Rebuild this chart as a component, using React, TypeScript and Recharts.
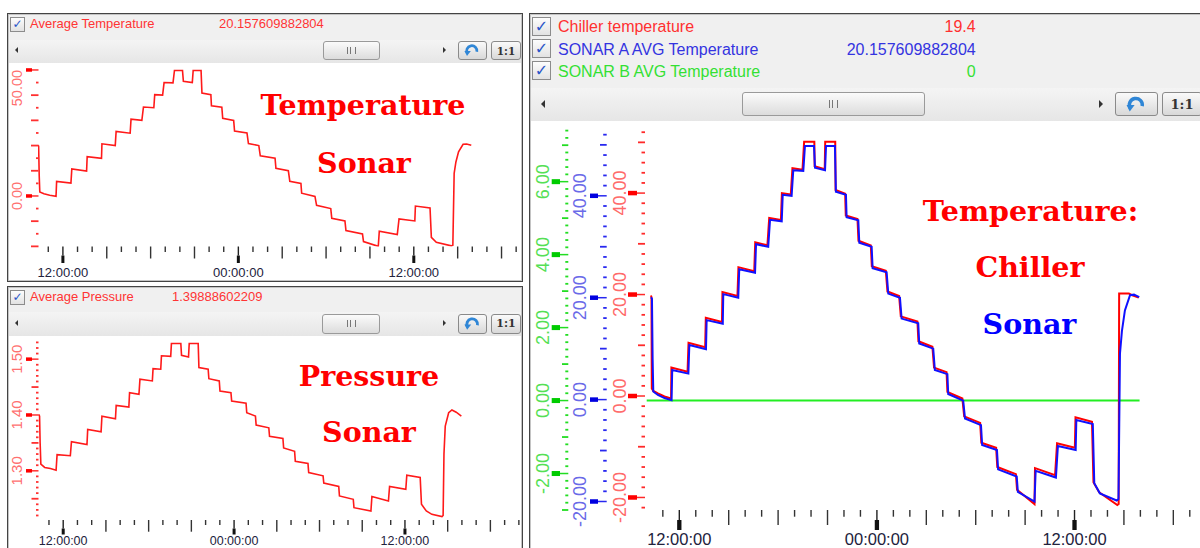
import React from 'react'
import { LineChart, Line, XAxis, YAxis } from 'recharts'

// time is in hours after the first 12:00:00 mark
const sonarA: [number, number][] = [
  [-1.72, 20.1], [-1.66, 19.8], [-1.62, 8.0], [-1.58, 1.6], [-1.3, 0.9], [-0.9, 0.3], [-0.47, -0.1],
  [-0.43, 5.8], [0.55, 5.1],
  [0.61, 10.7], [1.62, 9.9],
  [1.66, 15.6], [2.64, 14.9],
  [2.67, 20.7], [3.58, 20.0],
  [3.64, 25.6], [4.6, 24.9],
  [4.66, 30.5], [5.4, 30.0],
  [5.51, 35.3], [6.22, 35.0],
  [6.28, 40.2], [6.82, 40.0],
  [6.92, 45.0], [7.53, 44.9],
  [7.63, 49.8], [8.18, 49.8],
  [8.24, 45.5], [8.85, 45.0],
  [8.91, 49.8], [9.45, 49.8],
  [9.51, 40.8], [10.12, 40.2],
  [10.16, 35.8], [10.87, 35.2],
  [10.93, 30.8], [11.68, 30.0],
  [11.74, 25.8], [12.59, 25.0],
  [12.69, 20.8], [13.4, 20.0],
  [13.5, 15.9], [14.51, 15.0],
  [14.57, 11.0], [15.42, 10.0],
  [15.52, 5.8], [16.28, 5.0],
  [16.33, 1.1], [17.24, -0.2],
  [17.35, -3.7], [18.32, -5.0],
  [18.39, -8.9], [19.29, -9.9],
  [19.36, -13.7], [20.49, -15.1],
  [20.56, -18.1], [21.57, -20.0],
  [21.64, -14.0], [22.87, -15.3],
  [22.99, -9.1], [24.07, -9.9],
  [24.11, -4.0], [25.11, -4.8],
  [25.2, -16.4], [25.54, -18.4], [26.56, -19.8],
  [26.67, -19.5], [26.76, 9.0], [26.88, 13.5], [27.06, 17.5], [27.37, 20.5], [27.61, 20.6], [27.93, 20.1],
]

const chiller: [number, number][] = [
  [-1.72, 19.8], [-1.69, 19.5], [-1.67, 1.5], [-1.58, 1.0], [-1.3, 0.5], [-0.9, -0.1], [-0.5, -0.5],
  [-0.48, 5.6], [0.5, 4.8],
  [0.56, 10.5], [1.57, 9.6],
  [1.61, 15.4], [2.59, 14.6],
  [2.62, 20.5], [3.53, 19.7],
  [3.59, 25.4], [4.55, 24.6],
  [4.61, 30.3], [5.35, 29.7],
  [5.46, 35.1], [6.17, 34.7],
  [6.23, 40.0], [6.77, 39.7],
  [6.87, 44.9], [7.48, 44.6],
  [7.58, 50.1], [8.2, 50.1],
  [8.22, 45.3], [8.83, 44.7],
  [8.86, 50.1], [9.47, 50.1],
  [9.49, 40.6], [10.07, 39.9],
  [10.11, 35.6], [10.82, 34.9],
  [10.88, 30.6], [11.63, 29.7],
  [11.69, 25.6], [12.54, 24.7],
  [12.64, 20.6], [13.35, 19.7],
  [13.45, 15.7], [14.46, 14.7],
  [14.52, 10.8], [15.37, 9.7],
  [15.47, 5.6], [16.23, 4.7],
  [16.28, 0.8], [17.19, -0.5],
  [17.3, -4.0], [18.27, -5.3],
  [18.34, -9.2], [19.24, -10.2],
  [19.31, -14.0], [20.44, -15.4],
  [20.51, -18.5], [21.57, -21.3],
  [21.6, -14.2], [22.82, -15.6],
  [22.94, -9.3], [24.02, -10.2],
  [24.06, -4.2], [25.06, -5.1],
  [25.15, -17.0], [25.5, -19.0], [26.6, -21.5],
  [26.68, -21.3], [26.71, 20.2], [27.3, 20.2], [27.55, 19.8], [27.9, 19.4],
]

const sonarB: [number, number][] = [[-1.98, 0], [27.95, 0]]

const pressure: [number, number][] = [
  [-1.72, 1.401], [-1.66, 1.398], [-1.62, 1.35], [-1.57, 1.312], [-1.3, 1.306], [-0.9, 1.304], [-0.5, 1.301],
  [-0.43, 1.329], [0.5, 1.327],
  [0.58, 1.352], [1.67, 1.347],
  [1.72, 1.374], [2.66, 1.37],
  [2.72, 1.398], [3.67, 1.393],
  [3.72, 1.417], [4.61, 1.414],
  [4.66, 1.44], [5.32, 1.437],
  [5.39, 1.464], [6.26, 1.461],
  [6.31, 1.483], [6.85, 1.482],
  [6.9, 1.506], [7.55, 1.505],
  [7.6, 1.528], [8.26, 1.528],
  [8.31, 1.507], [8.8, 1.504],
  [8.85, 1.528], [9.48, 1.528],
  [9.53, 1.485], [10.18, 1.482],
  [10.23, 1.465], [10.96, 1.461],
  [11.01, 1.443], [11.78, 1.44],
  [11.83, 1.425], [12.84, 1.421],
  [12.89, 1.404], [13.5, 1.398],
  [13.55, 1.382], [14.44, 1.377],
  [14.49, 1.362], [15.43, 1.358],
  [15.48, 1.341], [16.25, 1.335],
  [16.3, 1.317], [17.19, 1.313],
  [17.24, 1.297], [18.25, 1.291],
  [18.3, 1.278], [19.35, 1.272],
  [19.4, 1.255], [20.37, 1.249],
  [20.42, 1.234], [21.61, 1.228],
  [21.68, 1.254], [22.84, 1.246],
  [22.92, 1.272], [24.06, 1.267],
  [24.13, 1.292], [25.07, 1.288],
  [25.16, 1.24], [25.5, 1.228], [25.89, 1.222], [26.6, 1.218],
  [26.68, 1.22], [26.74, 1.33], [26.83, 1.38], [27.07, 1.404], [27.3, 1.409], [27.6, 1.405], [27.96, 1.398],
]

const timeMajors = [0, 12, 24]
const timeLabels = ['12:00:00', '00:00:00', '12:00:00']
const tempMajors = [0, 50]
const pressureMajors = [1.3, 1.4, 1.5]
const chillerMajors = [-20, 0, 20, 40]
const sonarAMajors = [-20, 0, 20, 40]
const sonarBMajors = [-2, 0, 2, 4, 6]

const rows = (pts: [number, number][]) => pts.map(([t, v]) => ({ t, v }))

const steps = (from: number, to: number, step: number) => {
  const out: number[] = []
  const n = Math.round((to - from) / step)
  for (let i = 0; i <= n; i++) out.push(Math.round((from + i * step) * 1000) / 1000)
  return out
}

const UI_FONT = '"Liberation Sans", Arial, sans-serif'

const textLen = (s: string, f: number) =>
  s.split('').reduce((w, c) => w + (c === '.' ? 0.278 : c === '-' ? 0.333 : 0.556), 0) * f

type YStyle = {
  right: number; barFrom: number; barTo: number; barH: number
  medLen: number; minLen: number; labelX: number; font: number
  tick: string; bar: string; label: string
  majors: number[]; medium: (v: number) => boolean
}

const makeYTick = (s: YStyle) => (props: any) => {
  const { y, payload } = props
  const v = payload.value as number
  const major = s.majors.some((m) => Math.abs(m - v) < 1e-6)
  if (major) {
    const text = v.toFixed(2)
    const half = textLen(text, s.font) / 2
    const cy = y - half < 1 ? y + half : y
    return (
      <g>
        <line x1={s.barTo} x2={s.right} y1={y} y2={y} stroke={s.tick} strokeWidth={1.5} />
        <rect x={s.barFrom} y={y - s.barH / 2} width={s.barTo - s.barFrom} height={s.barH} fill={s.bar} />
        <text
          x={s.labelX}
          y={cy}
          transform={`rotate(-90 ${s.labelX} ${cy})`}
          textAnchor="middle"
          dominantBaseline="central"
          fill={s.label}
          fontSize={s.font}
          fontFamily={UI_FONT}
        >
          {text}
        </text>
      </g>
    )
  }
  const len = s.medium(v) ? s.medLen : s.minLen
  return <line x1={s.right - len} x2={s.right} y1={y} y2={y} stroke={s.tick} strokeWidth={1.8} />
}

type XStyle = { minLen: number; medLen: number; majLen: number; barLen: number; barW: number; labelDy: number; font: number }

const makeXTick = (s: XStyle) => (props: any) => {
  const { x, y, payload } = props
  const v = payload.value as number
  const idx = timeMajors.indexOf(v)
  if (idx >= 0) {
    return (
      <g>
        <line x1={x} x2={x} y1={y} y2={y + s.majLen} stroke="#222" strokeWidth={1.4} />
        <rect x={x - s.barW / 2} y={y + s.majLen} width={s.barW} height={s.barLen} fill="#111" />
        <text x={x} y={y + s.labelDy} textAnchor="middle" fontSize={s.font} fill="#22223c" fontFamily={UI_FONT}>
          {timeLabels[idx]}
        </text>
      </g>
    )
  }
  const len = v % 3 === 0 ? s.medLen : s.minLen
  return <line x1={x} x2={x} y1={y} y2={y + len} stroke="#333" strokeWidth={1.4} />
}

const leftRed = { tick: '#ff3030', bar: '#ff0000', label: '#ff7070' }

const tempTick = makeYTick({
  right: 38.5, barFrom: 26, barTo: 32, barH: 3.5, medLen: 7.5, minLen: 2.5, labelX: 16.7, font: 14.5,
  ...leftRed, majors: tempMajors, medium: (v) => v % 10 === 0,
})
const pressureTick = makeYTick({
  right: 38.5, barFrom: 26, barTo: 32, barH: 3.5, medLen: 7, minLen: 2.5, labelX: 17, font: 15,
  ...leftRed, majors: pressureMajors, medium: (v) => Math.round(v * 100) % 5 === 0,
})
const sonarBTick = makeYTick({
  right: 38.3, barFrom: 21.7, barTo: 30, barH: 5, medLen: 6.3, minLen: 3, labelX: 13.3, font: 18,
  tick: '#22dd22', bar: '#00cc00', label: '#55e055', majors: sonarBMajors,
  medium: (v) => Math.abs(Math.round(v) - v) < 1e-6 && Math.round(v) % 2 !== 0,
})
const sonarATick = makeYTick({
  right: 76.7, barFrom: 60, barTo: 68, barH: 4.5, medLen: 6.7, minLen: 3.5, labelX: 50, font: 18,
  tick: '#2828f0', bar: '#0000e0', label: '#6a6ae8', majors: sonarAMajors, medium: (v) => v % 10 === 0,
})
const chillerTick = makeYTick({
  right: 115, barFrom: 98, barTo: 107, barH: 4.5, medLen: 7, minLen: 3.5, labelX: 90, font: 18,
  tick: '#ff2a2a', bar: '#ff0000', label: '#ff6a6a', majors: chillerMajors, medium: (v) => v % 10 === 0,
})

const topTimeTick = makeXTick({ minLen: 5.5, medLen: 12, majLen: 9, barLen: 7.5, barW: 3, labelDy: 30.5, font: 13 })
const bottomTimeTick = makeXTick({ minLen: 5, medLen: 11.7, majLen: 8.5, barLen: 6, barW: 3, labelDy: 25, font: 12.5 })
const rightTimeTick = makeXTick({ minLen: 6.7, medLen: 15, majLen: 10, barLen: 10, barW: 4.3, labelDy: 35, font: 16.5 })

const abs = (left: number, top: number, width: number, height: number): React.CSSProperties => ({
  position: 'absolute', left, top, width, height, boxSizing: 'border-box',
})

const CheckBox = ({ left, top, size }: { left: number; top: number; size: number }) => (
  <div
    style={{
      ...abs(left, top, size, size),
      border: '1px solid #8c8c8c',
      background: 'linear-gradient(#fdfdfd, #e2e2e2)',
      color: '#2a55c8',
      fontSize: size - 3,
      lineHeight: `${size - 2}px`,
      textAlign: 'center',
      fontFamily: '"DejaVu Sans", sans-serif',
    }}
  >
    ✓
  </div>
)

const Label = ({ left, top, size, color, text, width, align }: any) => (
  <div
    style={{
      position: 'absolute', left, top, width, fontSize: size, lineHeight: `${Math.round(size * 1.25)}px`,
      color, fontFamily: UI_FONT, whiteSpace: 'nowrap', textAlign: align || 'left',
    }}
  >
    {text}
  </div>
)

const Tri = ({ left, top, dir, size }: { left: number; top: number; dir: 'l' | 'r'; size: number }) => (
  <div
    style={{
      position: 'absolute', left, top: top - size, width: 0, height: 0,
      borderTop: `${size}px solid transparent`, borderBottom: `${size}px solid transparent`,
      ...(dir === 'l' ? { borderRight: `${size}px solid #333` } : { borderLeft: `${size}px solid #333` }),
    }}
  />
)

const Thumb = ({ left, top, width, height }: any) => (
  <div
    style={{
      ...abs(left, top, width, height), border: '1px solid #9a9a9a', borderRadius: 3,
      background: 'linear-gradient(#fbfbfb, #dcdcdc)', display: 'flex', alignItems: 'center', justifyContent: 'center',
    }}
  >
    <div style={{ width: 7, height: height * 0.35, borderLeft: '1px solid #777', borderRight: '1px solid #777', position: 'relative' }}>
      <div style={{ position: 'absolute', left: 2, top: 0, width: 1, height: '100%', background: '#777' }} />
    </div>
  </div>
)

const Button = ({ left, top, width, height, kind }: any) => (
  <div
    style={{
      ...abs(left, top, width, height), border: '1px solid #8a8a8a', borderRadius: 3,
      background: 'linear-gradient(#fafafa, #d8d8d8)', display: 'flex', alignItems: 'center', justifyContent: 'center',
      fontFamily: '"DejaVu Serif", serif', fontWeight: 'bold', fontSize: height * 0.55, color: '#333',
    }}
  >
    {kind === 'reset' ? (
      <svg width={height * 0.9} height={height * 0.75} viewBox="0 0 20 16">
        <path d="M4 12 A6 6 0 1 1 15 10" stroke="#2f86d6" strokeWidth={3.2} fill="none" />
        <path d="M0.5 9 L8 9 L3.5 15 Z" fill="#2f86d6" />
      </svg>
    ) : (
      '1:1'
    )}
  </div>
)

const Annotation = ({ x, y, text, color }: any) => (
  <text x={x} y={y} textAnchor="middle" fill={color} fontSize={28.5} fontWeight="bold" fontFamily='"DejaVu Serif", serif'>
    {text}
  </text>
)

const App = () => {
  return (
    <div style={{ position: 'absolute', left: 0, top: 0, width: 1200, height: 548, overflow: 'hidden', background: '#fff' }}>
      {/* top left: average temperature */}
      <div style={{ ...abs(7, 13, 516, 269), border: '1px solid #444', boxShadow: 'inset 0 0 0 1px #c4c4c4', background: '#fff' }} />
      <div style={{ ...abs(9, 15, 512, 25), background: '#f0f0f0' }} />
      <div style={{ ...abs(9, 40, 512, 23), background: 'linear-gradient(#f4f4f4, #e6e6e6)' }} />
      <CheckBox left={10} top={17} size={15} />
      <Label left={30} top={16} size={13} color="#ff3434" text="Average Temperature" />
      <Label left={219} top={16} size={13} color="#ff3434" text="20.157609882804" />
      <Tri left={15} top={50} dir="l" size={3.5} />
      <Thumb left={323} top={41} width={57} height={19} />
      <Tri left={443} top={50} dir="r" size={3.5} />
      <Button left={458} top={41} width={29} height={19} kind="reset" />
      <Button left={491} top={41} width={30} height={19} kind="one" />

      {/* bottom left: average pressure */}
      <div style={{ ...abs(7, 286, 516, 280), border: '1px solid #444', boxShadow: 'inset 0 0 0 1px #c4c4c4', background: '#fff' }} />
      <div style={{ ...abs(9, 288, 512, 24), background: '#f0f0f0' }} />
      <div style={{ ...abs(9, 312, 512, 24), background: 'linear-gradient(#f4f4f4, #e6e6e6)' }} />
      <CheckBox left={10} top={290} size={15} />
      <Label left={30} top={288.5} size={13} color="#ff3434" text="Average Pressure" />
      <Label left={172} top={288.5} size={13} color="#ff3434" text="1.39888602209" />
      <Tri left={15} top={323} dir="l" size={3.5} />
      <Thumb left={322} top={313.5} width={58} height={20} />
      <Tri left={443} top={323} dir="r" size={3.5} />
      <Button left={458} top={313.5} width={29} height={20} kind="reset" />
      <Button left={491} top={313.5} width={30} height={20} kind="one" />

      {/* right: chiller and sonar temperatures */}
      <div style={{ ...abs(529, 13, 690, 560), border: '1px solid #444', boxShadow: 'inset 0 0 0 1px #c4c4c4', background: '#fff' }} />
      <div style={{ ...abs(531, 15, 690, 73), background: '#f0f0f0' }} />
      <div style={{ ...abs(531, 88, 690, 33), background: 'linear-gradient(#f4f4f4, #e6e6e6)' }} />
      <CheckBox left={532} top={17} size={19} />
      <CheckBox left={532} top={39} size={19} />
      <CheckBox left={532} top={61} size={19} />
      <Label left={558} top={17} size={16} color="#ff3030" text="Chiller temperature" />
      <Label left={558} top={39.5} size={16} color="#3434e0" text="SONAR A AVG Temperature" />
      <Label left={558} top={61.7} size={16} color="#33e033" text="SONAR B AVG Temperature" />
      <Label left={700} width={275.7} align="right" top={17} size={16} color="#ff3030" text="19.4" />
      <Label left={700} width={275.7} align="right" top={39.5} size={16} color="#3434e0" text="20.157609882804" />
      <Label left={700} width={275.7} align="right" top={61.7} size={16} color="#33e033" text="0" />
      <Tri left={541} top={104} dir="l" size={4} />
      <Thumb left={742} top={92} width={183} height={24} />
      <Tri left={1099} top={104} dir="r" size={4} />
      <Button left={1115} top={92} width={43} height={24} kind="reset" />
      <Button left={1162} top={92} width={40} height={24} kind="one" />

      <div style={{ position: 'absolute', left: 0, top: 63 }}>
        <LineChart width={522} height={218} margin={{ top: 0, right: 0, bottom: 0, left: 0 }}>
          <XAxis
            type="number" dataKey="t" domain={[-1.703, 31.4]} allowDataOverflow ticks={steps(-1, 31, 1)}
            interval={0} tick={topTimeTick} tickLine={false} axisLine={false} tickSize={0} tickMargin={0} height={34.5}
          />
          <YAxis
            type="number" domain={[-20.05, 52.76]} allowDataOverflow ticks={steps(-20, 50, 5)}
            interval={0} tick={tempTick} tickLine={false} axisLine={false} tickSize={0} tickMargin={0} width={38}
          />
          <Line data={rows(sonarA)} dataKey="v" type="linear" stroke="#ff1a1a" strokeWidth={1.6} dot={false} isAnimationActive={false} />
        </LineChart>
      </div>

      <div style={{ position: 'absolute', left: 0, top: 340 }}>
        <LineChart width={522} height={208} margin={{ top: 0, right: 0, bottom: 0, left: 0 }}>
          <XAxis
            type="number" dataKey="t" domain={[-1.77, 32.22]} allowDataOverflow ticks={steps(-1, 32, 1)}
            interval={0} tick={bottomTimeTick} tickLine={false} axisLine={false} tickSize={0} tickMargin={0} height={28}
          />
          <YAxis
            type="number" domain={[1.2119, 1.5343]} allowDataOverflow ticks={steps(1.22, 1.53, 0.01)}
            interval={0} tick={pressureTick} tickLine={false} axisLine={false} tickSize={0} tickMargin={0} width={38}
          />
          <Line data={rows(pressure)} dataKey="v" type="linear" stroke="#ff1a1a" strokeWidth={1.6} dot={false} isAnimationActive={false} />
        </LineChart>
      </div>

      <div style={{ position: 'absolute', left: 530, top: 125 }}>
        <LineChart width={670} height={423} margin={{ top: 3, right: 0, bottom: 0, left: 0 }}>
          <XAxis
            type="number" dataKey="t" domain={[-2.083, 31.62]} allowDataOverflow ticks={steps(-1, 31, 1)}
            interval={0} tick={rightTimeTick} tickLine={false} axisLine={false} tickSize={0} tickMargin={0} height={38}
          />
          <YAxis
            yAxisId="b" type="number" domain={[-3, 7.471]} allowDataOverflow ticks={steps(-3, 7.4, 0.2)}
            interval={0} tick={sonarBTick} tickLine={false} axisLine={false} tickSize={0} tickMargin={0} width={38}
          />
          <YAxis
            yAxisId="a" type="number" domain={[-21.67, 53.31]} allowDataOverflow ticks={steps(-20, 52, 2)}
            interval={0} tick={sonarATick} tickLine={false} axisLine={false} tickSize={0} tickMargin={0} width={38}
          />
          <YAxis
            yAxisId="c" type="number" domain={[-22.47, 52.83]} allowDataOverflow ticks={steps(-22, 52, 2)}
            interval={0} tick={chillerTick} tickLine={false} axisLine={false} tickSize={0} tickMargin={0} width={39}
          />
          <Line yAxisId="b" data={rows(sonarB)} dataKey="v" type="linear" stroke="#22ee22" strokeWidth={2} dot={false} isAnimationActive={false} />
          <Line yAxisId="c" data={rows(chiller)} dataKey="v" type="linear" stroke="#ff0000" strokeWidth={2} dot={false} isAnimationActive={false} />
          <Line yAxisId="a" data={rows(sonarA)} dataKey="v" type="linear" stroke="#1010ff" strokeWidth={2} dot={false} isAnimationActive={false} />
        </LineChart>
      </div>

      <svg width={1200} height={548} style={{ position: 'absolute', left: 0, top: 0, pointerEvents: 'none' }}>
        <Annotation x={363} y={115} text="Temperature" color="#ff0000" />
        <Annotation x={364} y={172.7} text="Sonar" color="#ff0000" />
        <Annotation x={369} y={386} text="Pressure" color="#ff0000" />
        <Annotation x={369} y={441.7} text="Sonar" color="#ff0000" />
        <Annotation x={1030.5} y={220.7} text="Temperature:" color="#ff0000" />
        <Annotation x={1030} y={276.7} text="Chiller" color="#ff0000" />
        <Annotation x={1029.5} y={334} text="Sonar" color="#0000ff" />
      </svg>
    </div>
  )
}

export default App
